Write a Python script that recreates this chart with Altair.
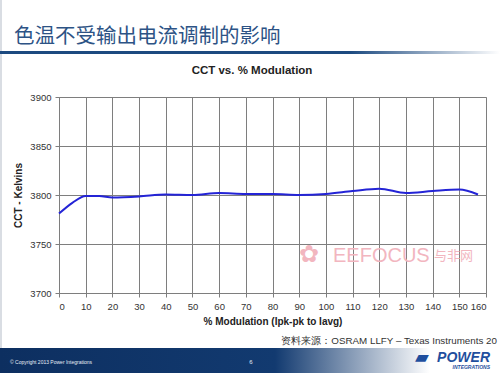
import altair as alt
import pandas as pd

modulation = [0, 5, 10, 15, 20, 30, 40, 50, 60, 70, 80, 90, 100, 110, 120, 130, 140, 150, 157]
cct = [3781, 3792, 3799, 3799, 3797.5, 3798.5, 3800.5, 3800, 3802, 3801, 3801, 3800, 3801, 3804, 3806.5, 3802, 3804, 3805.5, 3800.5]
x_ticks = list(range(0, 161, 10))
y_ticks = [3700, 3750, 3800, 3850, 3900]

df = pd.DataFrame({"mod": modulation, "cct": cct})

L, T = 59, 97  # plot area origin in page pixels
W, H = 427, 196

def px(X):
    return X - L

def py(Y):
    return Y - T

base = alt.Chart(df)

line = base.mark_line(color="#2424d6", strokeWidth=2, interpolate="monotone").encode(
    x=alt.X("mod:Q", scale=alt.Scale(domain=[0, 160], nice=False),
            axis=alt.Axis(values=x_ticks, title="% Modulation (Ipk-pk to Iavg)", grid=True,
                          titlePadding=6, format="d")),
    y=alt.Y("cct:Q", scale=alt.Scale(domain=[3700, 3900], nice=False, zero=False),
            axis=alt.Axis(values=y_ticks, title="CCT - Kelvins", grid=True, titlePadding=6,
                          format="d")),
)

def text(t, X, Y, **kw):
    return alt.Chart(pd.DataFrame({"t": [t]})).mark_text(**kw).encode(
        text="t:N", x=alt.value(px(X)), y=alt.value(py(Y)))

def rect(X1, X2, Y1, Y2, fill):
    return alt.Chart(pd.DataFrame({"a": [0]})).mark_rect(fill=fill, stroke=None).encode(
        x=alt.value(px(X1)), x2=alt.value(px(X2)), y=alt.value(py(Y1)), y2=alt.value(py(Y2)))

title_bar = rect(0, 500, 51, 54, alt.LinearGradient(
    gradient="linear", x1=0, x2=1, y1=0, y2=0,
    stops=[alt.GradientStop(color="#1c4a80", offset=0),
           alt.GradientStop(color="#1c4a80", offset=0.7),
           alt.GradientStop(color="#ffffff", offset=1)]))

footer = rect(0, 500, 348, 373, alt.LinearGradient(
    gradient="linear", x1=0, x2=1, y1=0, y2=0,
    stops=[alt.GradientStop(color="#0d2f60", offset=0),
           alt.GradientStop(color="#123a70", offset=0.55),
           alt.GradientStop(color="#ffffff", offset=0.86),
           alt.GradientStop(color="#ffffff", offset=1)]))

left_border = rect(0, 2, 0, 348, "#d9dde3")

layers = [
    left_border,
    title_bar,
    footer,
    line,
    text("色温不受输出电流调制的影响", 14, 43, align="left", font="Noto Sans CJK SC",
         fontSize=20.5, color="#2d5385", baseline="alphabetic"),
    text("CCT vs. % Modulation", 252, 74, align="center", font="Liberation Sans",
         fontSize=11.5, fontWeight="bold", color="#222222", baseline="alphabetic"),
    text("EEFOCUS", 333, 256, align="left", font="Liberation Sans", fontSize=20,
         color="#f2b6bf", baseline="middle"),
    text("与非网", 434, 256, align="left", font="Noto Sans CJK SC", fontSize=13,
         color="#f2b6bf", baseline="middle"),
    text("✿", 309, 255, align="center", font="DejaVu Sans", fontSize=24,
         color="#f2b6bf", baseline="middle"),
    text("资料来源：OSRAM LLFY – Texas Instruments 20", 497, 344, align="right",
         font="Liberation Sans", fontSize=9.8, color="#333333", baseline="alphabetic"),
    text("© Copyright 2013 Power Integrations", 10, 364, align="left", font="Liberation Sans",
         fontSize=5, color="#e8eef6", baseline="alphabetic"),
    text("6", 251, 364, align="center", font="Liberation Sans", fontSize=6,
         color="#e8eef6", baseline="alphabetic"),
    text("POWER", 490, 362, align="right", font="Liberation Sans", fontSize=14,
         fontWeight="bold", fontStyle="italic", color="#1f4f9e", baseline="alphabetic"),
    text("INTEGRATIONS", 490, 369, align="right", font="Liberation Sans", fontSize=5,
         fontWeight="bold", fontStyle="italic", color="#1f4f9e", baseline="alphabetic"),
    text("▰", 422, 363, align="center", font="DejaVu Sans", fontSize=18,
         color="#1f4f9e", baseline="alphabetic"),
]

chart = alt.layer(*layers).properties(
    width=W, height=H,
    autosize=alt.AutoSizeParams(type="none"),
    padding={"left": L, "top": T, "right": 500 - L - W, "bottom": 373 - T - H},
    background="#ffffff",
).configure_view(stroke="#bbbbbb", strokeWidth=1).configure_axis(
    gridColor="#7e7e7e", gridWidth=1, domainColor="#7e7e7e", tickColor="#7e7e7e",
    tickSize=4, labelFont="Liberation Sans", labelFontSize=9.5, labelColor="#333333",
    titleFont="Liberation Sans", titleFontSize=10, titleFontWeight="bold", titleColor="#222222",
    labelPadding=4,
)

chart.save("out.html", embed_options={"renderer": "svg", "actions": False})
